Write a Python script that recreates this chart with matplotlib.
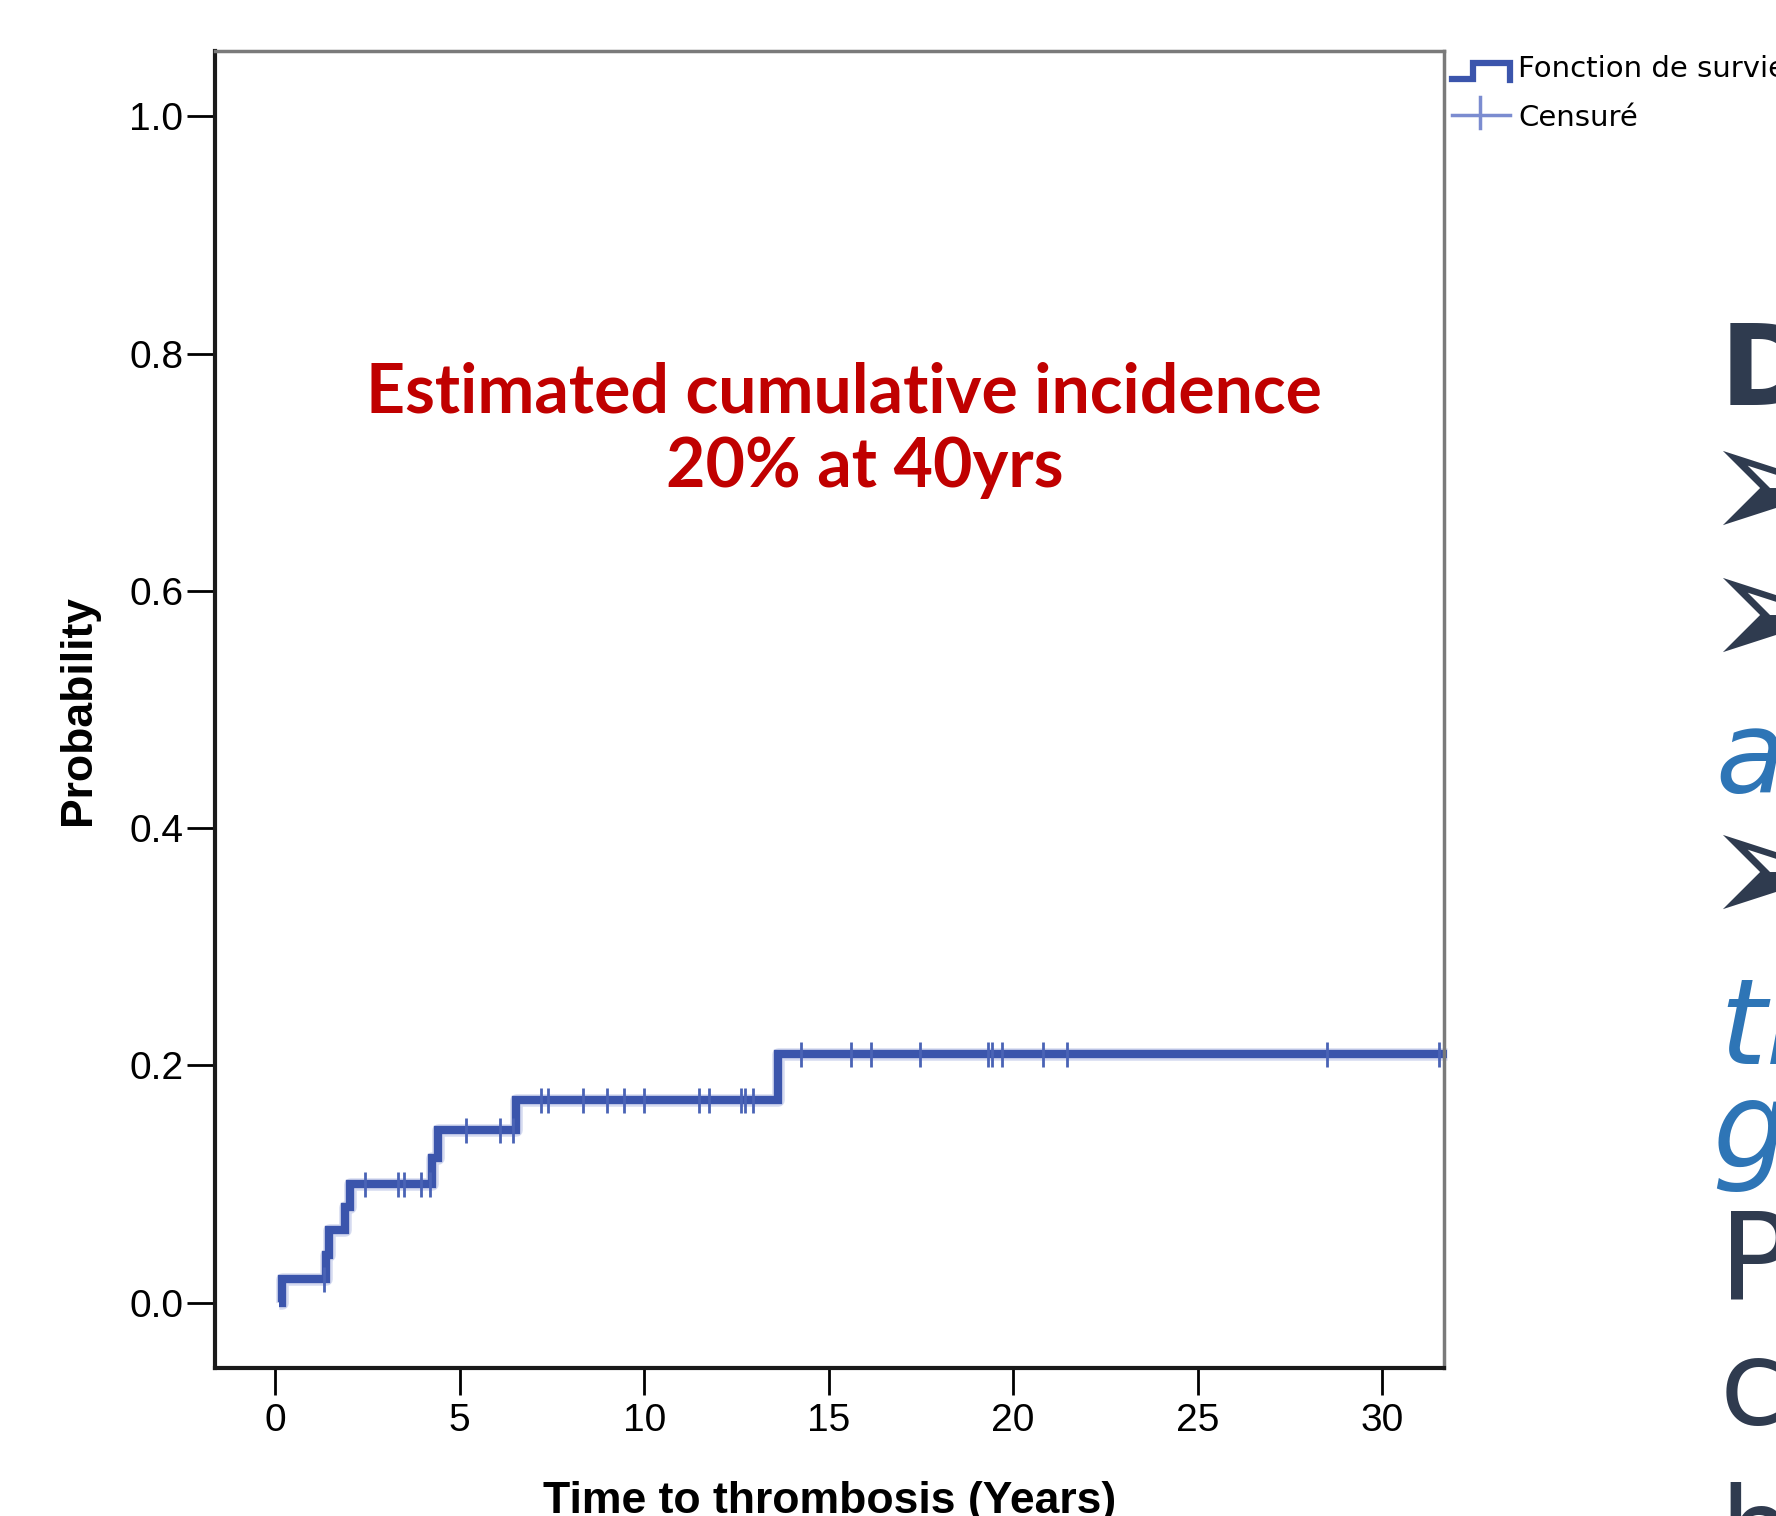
import numpy as np
import matplotlib
matplotlib.use("Agg")
import matplotlib.pyplot as plt
from matplotlib.lines import Line2D

# Kaplan-Meier style cumulative incidence
start_time = 0.10
event_times = [0.18, 1.37, 1.45, 1.90, 2.02, 4.25, 4.42, 6.52, 13.62]
event_levels = [0.020, 0.040, 0.061, 0.081, 0.100, 0.122, 0.146, 0.171, 0.210]
end_time = 31.75
censor_times = [1.33, 2.44, 3.34, 3.48, 3.94, 4.20, 5.18, 6.10, 6.45,
                7.21, 7.40, 8.33, 9.00, 9.46, 10.00, 11.48, 11.75, 12.63,
                12.74, 12.95, 14.24, 15.60, 16.16, 17.48, 19.33, 19.43,
                19.70, 20.80, 21.47, 28.50, 31.54]

xticks = [0, 5, 10, 15, 20, 25, 30]
yticks = [0.0, 0.2, 0.4, 0.6, 0.8, 1.0]

blue = '#3b55ac'
sans = ['Liberation Sans', 'DejaVu Sans']
deco = ['Lato', 'DejaVu Sans']

x = [start_time] + event_times + [end_time]
y = [0.0] + event_levels + [event_levels[-1]]

# level of the curve at each censoring time
cens_y = [([0.0] + event_levels)[np.searchsorted(event_times, t, side='right')]
          for t in censor_times]

fig = plt.figure(figsize=(17.76, 15.16), dpi=100)
ax = fig.add_axes([0.1211, 0.0976, 0.692, 0.8687])

ax.step(x, y, where='post', color='#8797d4', lw=9, alpha=0.35,
        solid_capstyle='butt', clip_on=False)
ax.step(x, y, where='post', color=blue, lw=6, solid_joinstyle='miter',
        solid_capstyle='butt', clip_on=False)
ax.plot(censor_times, cens_y, ls='none', marker='|', ms=18, mew=2,
        color='#4a63b6', clip_on=False)

ax.set_xlim(-1.63, 31.68)
ax.set_ylim(-0.055, 1.055)
ax.set_xticks(xticks)
ax.set_yticks(yticks)
ax.set_yticklabels(['%.1f' % v for v in yticks])

for s in ['left', 'bottom']:
    ax.spines[s].set_color('#1a1a1a')
    ax.spines[s].set_linewidth(3)
for s in ['top', 'right']:
    ax.spines[s].set_color('#7a7a7a')
    ax.spines[s].set_linewidth(2.5)

ax.tick_params(axis='y', length=20, width=2, pad=3, labelsize=28)
ax.tick_params(axis='x', length=19.5, width=2, pad=6, labelsize=28)
for lab in ax.get_xticklabels() + ax.get_yticklabels():
    lab.set_family(sans)

ax.set_xlabel('Time to thrombosis (Years)', family=sans, weight='bold',
              fontsize=32, va='baseline')
ax.xaxis.set_label_coords(0.5, -0.110)
ax.set_ylabel('Probability', family=sans, weight='bold', fontsize=32,
              va='center')
ax.yaxis.set_label_coords(-0.1115, 0.5)

# red annotation
fig.text(0.475, 0.7282, 'Estimated cumulative incidence', color='#c00000',
         family=deco, weight='bold', fontsize=49, ha='center', va='baseline')
fig.text(0.4868, 0.6788, '20% at 40yrs', color='#c00000',
         family=deco, weight='bold', fontsize=49, ha='center', va='baseline')

# legend (outside the plot, top right)
fig.add_artist(Line2D([0.8176, 0.8294, 0.8294, 0.8502, 0.8502],
                      [0.9479, 0.9479, 0.9584, 0.9584, 0.9472],
                      transform=fig.transFigure, color=blue, lw=4.5,
                      solid_joinstyle='miter'))
fig.add_artist(Line2D([0.8176, 0.8502], [0.9241, 0.9241],
                      transform=fig.transFigure, color='#7b8cd0', lw=2.5))
fig.add_artist(Line2D([0.8333, 0.8333], [0.9156, 0.9360],
                      transform=fig.transFigure, color='#7b8cd0', lw=2.5))
fig.text(0.8547, 0.9490, 'Fonction de survie', family='DejaVu Sans',
         fontsize=21, va='baseline')
fig.text(0.8547, 0.9169, 'Censuré', family='DejaVu Sans', fontsize=21,
         va='baseline')

# slide text cut off at the right edge
navy = '#2f3b4f'
sky = '#2e75b6'
fig.text(0.968, 0.7329, 'D', color=navy, fontsize=81, weight='bold',
         va='baseline')
for yy in [0.6741, 0.5904, 0.4209]:
    fig.text(0.9590, yy, '\u27a2', color=navy, fontsize=122, va='center')
fig.text(0.966, 0.4776, 'an', color=sky, fontsize=82, style='italic',
         va='baseline')
fig.text(0.968, 0.2982, 'th', color=sky, fontsize=86, style='italic',
         va='baseline')
fig.text(0.964, 0.2302, 'g', color=sky, fontsize=86, style='italic',
         va='baseline')
fig.text(0.968, 0.1425, 'P', color=navy, fontsize=88, va='baseline')
fig.text(0.968, 0.0607, 'co', color=navy, fontsize=84, va='baseline')
fig.text(0.968, -0.036, 'b', color=navy, fontsize=84, va='baseline')

fig.savefig('out.png', dpi=100)
